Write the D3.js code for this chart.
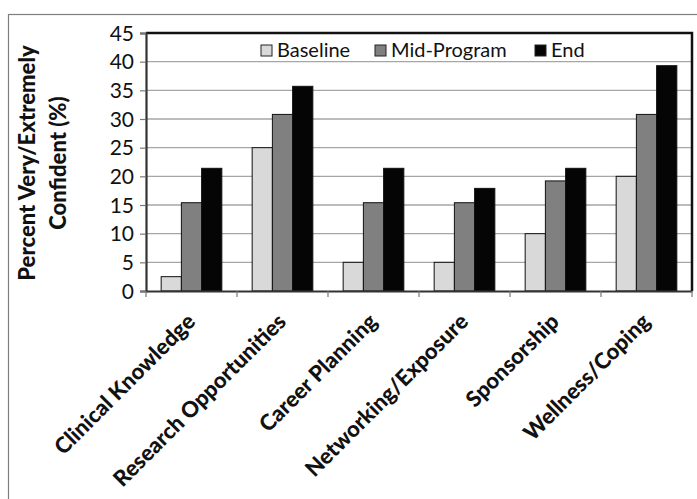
<!DOCTYPE html>
<html>
<head>
<meta charset="utf-8">
<script src="https://cdn.jsdelivr.net/npm/d3@7"></script>
<style>
  html, body { margin: 0; padding: 0; background: #fff; }
  svg { display: block; }
</style>
</head>
<body>
<svg id="chart" width="697" height="499"></svg>
<script>
const categories = ["Clinical Knowledge", "Research Opportunities", "Career Planning", "Networking/Exposure", "Sponsorship", "Wellness/Coping"];
const seriesNames = ["Baseline", "Mid-Program", "End"];
const baseline   = [2.5, 25, 5, 5, 10, 20];
const midProgram = [15.4, 30.8, 15.4, 15.4, 19.2, 30.8];
const endValues  = [21.4, 35.7, 21.4, 17.9, 21.4, 39.3];
const yTicks = [0, 5, 10, 15, 20, 25, 30, 35, 40, 45];
const yTitleLines = ["Percent Very/Extremely", "Confident (%)"];

const seriesValues = [baseline, midProgram, endValues];
const colors = ["#d9d9d9", "#808080", "#050505"];

const svg = d3.select("#chart");
const W = 697, H = 499;
const m = { left: 146, right: 692, top: 33, bottom: 291 };
const font = "Lato, 'Open Sans', 'DejaVu Sans', sans-serif";

// outer frame
svg.append("rect").attr("x", 8.5).attr("y", 14.5).attr("width", W + 10).attr("height", H + 10)
  .attr("fill", "#fff").attr("stroke", "#7f7f7f").attr("stroke-width", 1.2);

const x0 = d3.scaleBand().domain(categories).range([m.left, m.right]).paddingInner(0).paddingOuter(0);
const bw = x0.bandwidth();
const x1 = d3.scaleBand().domain(seriesNames).range([bw * 0.75 / 4.5, bw - bw * 0.75 / 4.5]).padding(0);
const y = d3.scaleLinear().domain([0, 45]).range([m.bottom, m.top]);

// gridlines
svg.append("g").selectAll("line").data(yTicks.filter(t => t > 0 && t < 45)).join("line")
  .attr("x1", m.left).attr("x2", m.right)
  .attr("y1", d => y(d)).attr("y2", d => y(d))
  .attr("stroke", "#a6a6a6").attr("stroke-width", 1.3);

// bars
const data = [];
categories.forEach((c, i) => seriesNames.forEach((s, j) => data.push({ c, s, j, v: seriesValues[j][i] })));
svg.append("g").selectAll("rect").data(data).join("rect")
  .attr("x", d => x0(d.c) + x1(d.s))
  .attr("width", x1.bandwidth())
  .attr("y", d => y(d.v))
  .attr("height", d => y(0) - y(d.v))
  .attr("fill", d => colors[d.j])
  .attr("stroke", "#111").attr("stroke-width", 1);

// plot border top & right
svg.append("path")
  .attr("d", `M${m.left},${m.top}H${m.right}V${m.bottom}`)
  .attr("fill", "none").attr("stroke", "#111").attr("stroke-width", 2.5);

// y axis
const yAxis = svg.append("g").attr("transform", `translate(${m.left},0)`)
  .call(d3.axisLeft(y).tickValues(yTicks).tickSize(6).tickFormat(""));
yAxis.select(".domain").attr("stroke", "#333").attr("stroke-width", 2.2);
yAxis.selectAll(".tick line").attr("stroke", "#777").attr("stroke-width", 1.2);
svg.append("g").selectAll("text").data(yTicks).join("text")
  .attr("x", m.left - 12).attr("y", d => y(d)).attr("dy", "0.36em")
  .attr("text-anchor", "end")
  .attr("font-family", font).attr("font-size", 21).attr("fill", "#111")
  .text(d => d);

// x axis
const xAxis = svg.append("g").attr("transform", `translate(0,${m.bottom})`)
  .call(d3.axisBottom(x0).tickSize(0).tickFormat(""));
xAxis.select(".domain").attr("stroke", "#333").attr("stroke-width", 2);
const bounds = categories.map(c => x0(c)).concat([m.right]);
xAxis.append("g").selectAll("line").data(bounds).join("line")
  .attr("x1", d => d).attr("x2", d => d).attr("y1", 0).attr("y2", 6)
  .attr("stroke", "#777").attr("stroke-width", 1.2);

svg.append("g").selectAll("text").data(categories).join("text")
  .attr("transform", d => `translate(${x0(d) + bw / 2 + 5},${m.bottom + 32}) rotate(-45)`)
  .attr("text-anchor", "end")
  .attr("font-family", font).attr("font-weight", "900").attr("font-size", 22).attr("fill", "#111")
  .text(d => d);

// y title
const yTitle = svg.append("text")
  .attr("transform", `translate(35,163) rotate(-90)`)
  .attr("text-anchor", "middle")
  .attr("font-family", font).attr("font-weight", "900").attr("font-size", 22).attr("fill", "#111");
yTitle.selectAll("tspan").data(yTitleLines).join("tspan")
  .attr("x", 0).attr("y", (d, i) => i * 31)
  .text(d => d);

// legend
const legX = [261, 375, 535];
const leg = svg.append("g").selectAll("g").data(seriesNames).join("g")
  .attr("transform", (d, i) => `translate(${legX[i]},44)`);
leg.append("rect").attr("width", 11).attr("height", 11).attr("y", 1)
  .attr("fill", (d, i) => colors[i]).attr("stroke", "#222").attr("stroke-width", 1);
leg.append("text").attr("x", 16).attr("y", 13)
  .attr("font-family", font).attr("font-size", 20).attr("fill", "#111")
  .text(d => d);
</script>
</body>
</html>
